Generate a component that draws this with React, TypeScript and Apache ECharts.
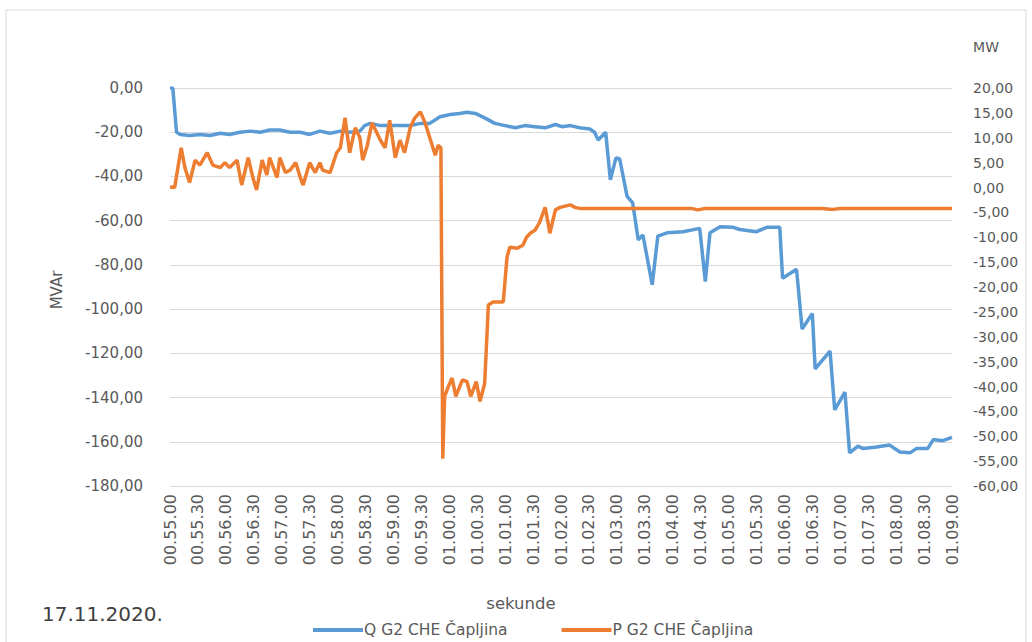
import React, { useEffect, useRef } from "react";
import * as echarts from "echarts";

const tickLabels = [
  "00.55.00", "00.55.30", "00.56.00", "00.56.30", "00.57.00", "00.57.30",
  "00.58.00", "00.58.30", "00.59.00", "00.59.30", "01.00.00", "01.00.30",
  "01.01.00", "01.01.30", "01.02.00", "01.02.30", "01.03.00", "01.03.30",
  "01.04.00", "01.04.30", "01.05.00", "01.05.30", "01.06.00", "01.06.30",
  "01.07.00", "01.07.30", "01.08.00", "01.08.30", "01.09.00",
];

// seconds after 00.55.00
const qSeconds = [
  0, 3, 7, 11, 21, 32, 43, 54, 64, 75, 86, 97, 107, 118, 129, 140, 150, 161, 172, 183,
  193, 204, 209, 215, 226, 236, 247, 258, 269, 279, 290, 301, 311, 319, 328, 338, 349,
  360, 371, 381, 392, 403, 414, 421, 430, 440, 451, 456, 460, 468, 473, 479, 483, 491,
  497, 503, 508, 518, 524, 534, 551, 569, 575, 580, 591, 605, 612, 630, 641, 655, 658,
  673, 679, 690, 693, 709, 714, 725, 730, 739, 744, 757, 773, 784, 795, 802, 814, 820,
  830, 840,
];
const qValues = [
  0, 0, -20, -21, -21.5, -21, -21.5, -20.5, -21, -20, -19.5, -20, -19, -19, -20, -20,
  -21, -19.5, -20.5, -19.5, -20, -19.5, -17, -16, -17, -17, -17, -17, -16, -16, -13, -12,
  -11.5, -11, -11.5, -13.5, -16, -17, -18, -17, -17.5, -18, -16.5, -17.5, -17, -18, -18.5,
  -20, -23.5, -20, -41.5, -31.7, -32, -49, -52, -68.7, -66.5, -89, -67, -65.5, -65, -63.5,
  -87.5, -65.5, -62.8, -63, -64, -65, -63, -63, -86, -82, -109, -102, -127, -119, -145.6,
  -137.5, -165, -162, -163, -162.5, -161.5, -164.6, -165, -163, -163, -159, -159.5, -158,
];

const pSeconds = [
  0, 5, 12, 16, 21, 27, 32, 40, 46, 54, 59, 64, 72, 77, 84, 89, 93, 99, 104, 107, 115,
  118, 124, 129, 135, 140, 143, 150, 156, 161, 164, 172, 179, 183, 188, 193, 199, 204,
  207, 212, 217, 226, 231, 236, 242, 247, 252, 258, 263, 269, 274, 279, 285, 288, 291,
  293, 295, 299, 303, 307, 314, 319, 323, 329, 333, 338, 342, 347, 358, 362, 365, 373,
  379, 383, 387, 392, 397, 403, 406, 408, 414, 419, 430, 435, 440, 500, 560, 567, 575,
  640, 700, 712, 720, 780, 840,
];
const pValues = [
  0.1, 0, 8, 4, 1, 5.5, 4.5, 7, 4.5, 4, 5, 4, 5.5, 0.5, 6, 2, -0.5, 5.5, 2.5, 6, 2, 6, 3,
  3.5, 5, 2, 0.5, 5, 3, 5, 3.5, 3, 7, 8, 14, 7, 12, 10, 5.5, 8.5, 13, 9.5, 8, 13.5, 6, 9.5,
  7, 12, 14, 15.2, 13, 10, 6.5, 8.5, 8, -54.5, -42, -40, -38.3, -42, -38.7, -39, -42, -39,
  -43, -39.4, -23.6, -23, -23, -14, -12, -12.2, -11.6, -10, -9.2, -8.6, -7, -4, -7, -9.2,
  -4.5, -4, -3.5, -4, -4.2, -4.2, -4.2, -4.5, -4.2, -4.2, -4.2, -4.4, -4.2, -4.2, -4.2,
];

const qName = "Q G2 CHE Čapljina";
const pName = "P G2 CHE Čapljina";

const FONT = "DejaVu Sans";
const GREY = "#595959";

const fmt = (v: number) => v.toFixed(2).replace(".", ",");

export default function App() {
  const ref = useRef<HTMLDivElement>(null);
  useEffect(() => {
    if (!ref.current) return;
    const chart = echarts.init(ref.current, undefined, { renderer: "svg" });
    const qData = qSeconds.map((s, i) => [s, qValues[i]]);
    const pData = pSeconds.map((s, i) => [s, pValues[i]]);
    chart.setOption({
      animation: false,
      backgroundColor: "#ffffff",
      grid: { left: 170, right: 80, top: 88, bottom: 156, containLabel: false },
      xAxis: {
        type: "value",
        min: 0,
        max: 840,
        interval: 30,
        axisLine: { show: true, lineStyle: { color: "#d9d9d9", width: 1 } },
        axisTick: { show: false },
        splitLine: { show: false },
        axisLabel: {
          rotate: 90,
          margin: 8,
          fontFamily: FONT,
          fontSize: 16,
          color: GREY,
          formatter: (v: number) => tickLabels[Math.round(v / 30)] ?? "",
        },
      },
      yAxis: [
        {
          type: "value",
          min: -180,
          max: 0,
          interval: 20,
          position: "left",
          axisLine: { show: false },
          axisTick: { show: false },
          splitLine: { show: true, lineStyle: { color: "#d9d9d9", width: 1 } },
          axisLabel: {
            margin: 27,
            fontFamily: FONT,
            fontSize: 15,
            color: GREY,
            formatter: fmt,
          },
        },
        {
          type: "value",
          min: -60,
          max: 20,
          interval: 5,
          position: "right",
          axisLine: { show: false },
          axisTick: { show: false },
          splitLine: { show: false },
          axisLabel: {
            margin: 21,
            fontFamily: FONT,
            fontSize: 14,
            color: GREY,
            formatter: fmt,
          },
        },
      ],
      legend: {
        show: true,
        left: 308,
        top: 617,
        itemWidth: 50,
        itemHeight: 4,
        itemGap: 54,
        icon: "rect",
        textStyle: { fontFamily: FONT, fontSize: 15.5, color: GREY, padding: [0, 0, 0, -4] },
        data: [qName, pName],
      },
      graphic: [
        {
          type: "rect",
          shape: { x: 6, y: 10, width: 1020, height: 640 },
          style: { fill: "none", stroke: "#d9d9d9", lineWidth: 1 },
          silent: true,
        },
        {
          type: "text",
          x: 57,
          y: 290,
          rotation: Math.PI / 2,
          style: {
            text: "MVAr",
            fontFamily: FONT,
            fontSize: 15,
            fill: GREY,
            align: "center",
            verticalAlign: "middle",
          },
        },
        {
          type: "text",
          x: 986,
          y: 47,
          style: {
            text: "MW",
            fontFamily: FONT,
            fontSize: 14,
            fill: GREY,
            align: "center",
            verticalAlign: "middle",
          },
        },
        {
          type: "text",
          x: 521,
          y: 603,
          style: {
            text: "sekunde",
            fontFamily: FONT,
            fontSize: 16.5,
            fill: GREY,
            align: "center",
            verticalAlign: "middle",
          },
        },
        {
          type: "text",
          x: 42,
          y: 614,
          style: {
            text: "17.11.2020.",
            fontFamily: FONT,
            fontSize: 20,
            fill: "#404040",
            align: "left",
            verticalAlign: "middle",
          },
        },
      ],
      series: [
        {
          name: qName,
          type: "line",
          yAxisIndex: 0,
          data: qData,
          showSymbol: false,
          symbol: "none",
          lineStyle: { color: "#5b9bd5", width: 3.5 },
          itemStyle: { color: "#5b9bd5" },
          z: 3,
        },
        {
          name: pName,
          type: "line",
          yAxisIndex: 1,
          data: pData,
          showSymbol: false,
          symbol: "none",
          lineStyle: { color: "#ed7d31", width: 3.5 },
          itemStyle: { color: "#ed7d31" },
          z: 4,
        },
      ],
    });
    return () => chart.dispose();
  }, []);
  return (
    <div
      ref={ref}
      style={{ position: "absolute", left: 0, top: 0, width: 1032, height: 642 }}
    />
  );
}
